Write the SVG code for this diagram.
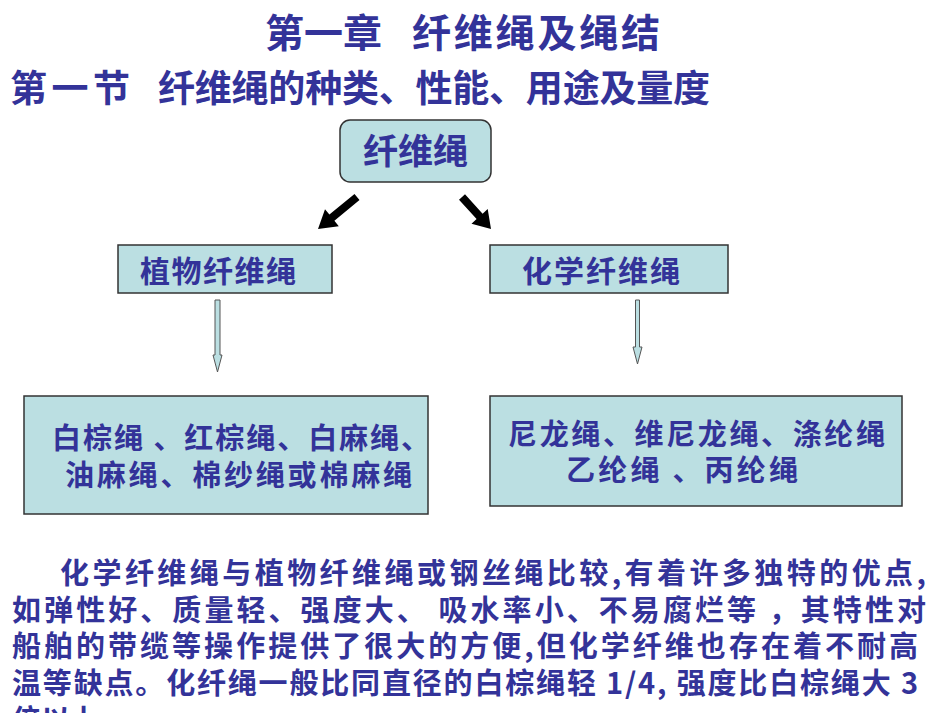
<svg xmlns="http://www.w3.org/2000/svg" width="950" height="713" viewBox="0 0 950 713">
<style>
text{font-family:"Noto Sans CJK SC","Noto Sans CJK TC",sans-serif;font-weight:bold;fill:#333399;}
.box{fill:#bbdfe2;stroke:#333333;stroke-width:1.5;}
.para{font-size:29px;}
.dn{fill:#bbdfe2;stroke:#555555;stroke-width:1;}
</style>
<rect width="950" height="713" fill="#ffffff"/>
<text x="265" y="47" font-size="39">第一章</text>
<text x="412" y="47" font-size="39" textLength="248" lengthAdjust="spacing">纤维绳及绳结</text>
<text x="10" y="102" font-size="37" textLength="120" lengthAdjust="spacing">第一节</text>
<text x="158" y="102" font-size="37" textLength="552" lengthAdjust="spacing">纤维绳的种类、性能、用途及量度</text>

<g id="root">
<rect class="box" x="340" y="120" width="151" height="62" rx="10"/>
<text x="415.5" y="164" font-size="35" text-anchor="middle">纤维绳</text>
</g>
<g id="plant">
<rect class="box" x="118" y="245" width="214" height="48"/>
<text x="140" y="282" font-size="30" textLength="156" lengthAdjust="spacing">植物纤维绳</text>
</g>
<g id="chem">
<rect class="box" x="490" y="245" width="238" height="48"/>
<text x="522" y="282" font-size="30" textLength="158" lengthAdjust="spacing">化学纤维绳</text>
</g>
<g id="plantList">
<rect class="box" x="24" y="396" width="404" height="118"/>
<text x="52" y="449" font-size="29" textLength="378" lengthAdjust="spacing">白棕绳 、红棕绳、白麻绳、</text>
<text x="65" y="486" font-size="29" textLength="347" lengthAdjust="spacing">油麻绳、棉纱绳或棉麻绳</text>
</g>
<g id="chemList">
<rect class="box" x="490" y="396" width="412" height="110"/>
<text x="508" y="445" font-size="29" textLength="377" lengthAdjust="spacing">尼龙绳、维尼龙绳、涤纶绳</text>
<text x="566" y="481" font-size="29" textLength="232" lengthAdjust="spacing">乙纶绳 、丙纶绳</text>
</g>

<g id="connectors">
<polygon fill="#000000" points="359.5,200.1 334.4,220.8 338.8,226.2 318,229 325,209.2 329.4,214.6 354.5,193.9"/>
<polygon fill="#000000" points="459,199.7 476.6,219.1 471.5,223.8 491,229 487.7,209 482.6,213.7 465,194.3"/>
<polygon class="dn" points="215,300 220,300 220,355 222,355 217.5,372 213,355 215,355"/>
<polygon class="dn" points="635.5,300 639.5,300 639.5,347 642,347 637.5,364 633,347 635.5,347"/>
</g>

<g id="paragraph">
<text class="para" x="60" y="584" textLength="866" lengthAdjust="spacing">化学纤维绳与植物纤维绳或钢丝绳比较,有着许多独特的优点,</text>
<text class="para" x="12" y="621" textLength="914" lengthAdjust="spacing">如弹性好、质量轻、强度大、 吸水率小、不易腐烂等  ，其特性对</text>
<text class="para" x="12" y="657" textLength="906" lengthAdjust="spacing">船舶的带缆等操作提供了很大的方便,但化学纤维也存在着不耐高</text>
<text class="para" x="12" y="694" textLength="906" lengthAdjust="spacing">温等缺点。化纤绳一般比同直径的白棕绳轻 1/4, 强度比白棕绳大 3</text>
<text class="para" x="12" y="731">倍以上。</text>
</g>
</svg>
